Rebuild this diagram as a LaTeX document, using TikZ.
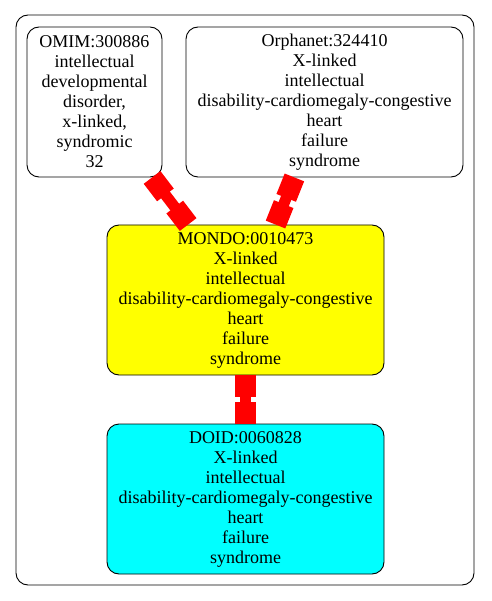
\documentclass[tikz,border=0pt]{standalone}
\usepackage{fontspec}
\setmainfont{Liberation Serif}
\usepackage{tikz}
\usetikzlibrary{arrows.meta,positioning}
\definecolor{termyellow}{HTML}{FFFF00}
\definecolor{termcyan}{HTML}{00FFFF}
\definecolor{linkred}{HTML}{FF0000}
\tikzset{
  term/.style={draw=black, fill=white, rounded corners=12pt, line width=0.9pt,
    align=center, inner sep=0pt, font=\fontsize{18}{20}\selectfont},
  rootterm/.style={term, fill=termyellow},
  leafterm/.style={term, fill=termcyan},
  cluster/.style={draw=black, rounded corners=12pt, line width=0.9pt},
  link/.style={draw=linkred, line width=11pt,
    {Rectangle[length=22pt,width=21pt]}-{Rectangle[length=22pt,width=21pt]}},
}
\begin{document}
\begin{tikzpicture}[x=1pt,y=1pt]
  \useasboundingbox (0,0) rectangle (491,-601);
  \draw[cluster] (16,-15) rectangle (474,-585);
  % source terms
  \node[term, minimum width=135pt, minimum height=150pt] (omim) at (94.5,-102)
    {OMIM:300886\\intellectual\\developmental\\disorder,\\x-linked,\\syndromic\\32};
  \node[term, minimum width=277pt, minimum height=150pt] (orpha) at (324.5,-102)
    {Orphanet:324410\\X-linked\\intellectual\\disability-cardiomegaly-congestive\\heart\\failure\\syndrome};
  % merged term
  \node[rootterm, minimum width=277pt, minimum height=150pt] (mondo) at (245.5,-300)
    {MONDO:0010473\\X-linked\\intellectual\\disability-cardiomegaly-congestive\\heart\\failure\\syndrome};
  \node[leafterm, minimum width=277pt, minimum height=150pt] (doid) at (245.5,-499)
    {DOID:0060828\\X-linked\\intellectual\\disability-cardiomegaly-congestive\\heart\\failure\\syndrome};
  \draw[link] (omim) -- (mondo);
  \draw[link] (orpha) -- (mondo);
  \draw[link] (mondo) -- (doid);
\end{tikzpicture}
\end{document}
